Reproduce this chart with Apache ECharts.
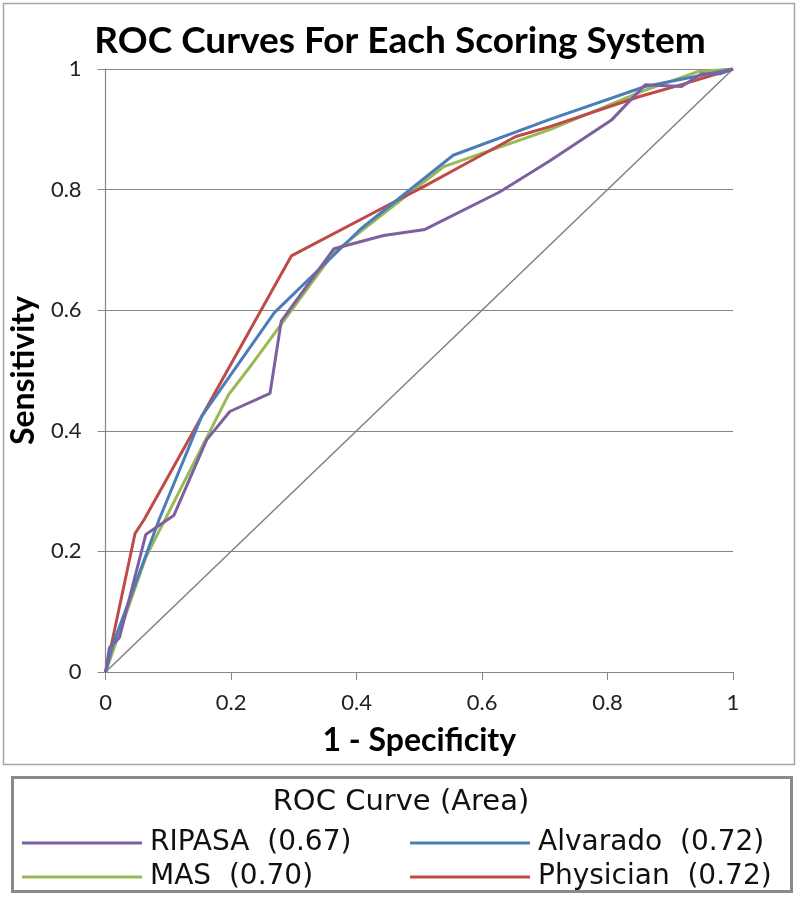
<!DOCTYPE html>
<html>
<head>
<meta charset="utf-8">
<script src="https://cdn.jsdelivr.net/npm/echarts@6/dist/echarts.min.js"></script>
<style>html,body{margin:0;padding:0;background:#fff}#c{width:800px;height:897px}</style>
</head>
<body>
<div id="c"></div>
<script>
// ---- data (x = 1 - specificity, y = sensitivity) ----
const seriesNames = ['RIPASA', 'Alvarado', 'MAS', 'Physician'];
const areas = ['0.67', '0.72', '0.70', '0.72'];
const ripasa = [[0,0],[0.006,0.04],[0.022,0.057],[0.064,0.228],[0.109,0.26],[0.161,0.385],[0.198,0.432],[0.262,0.462],[0.28,0.582],[0.364,0.702],[0.443,0.724],[0.509,0.734],[0.628,0.796],[0.707,0.847],[0.807,0.916],[0.86,0.974],[0.918,0.971],[0.95,0.992],[0.979,0.992],[1,1]];
const alvarado = [[0,0],[0.012,0.047],[0.04,0.125],[0.085,0.252],[0.153,0.424],[0.269,0.596],[0.407,0.735],[0.554,0.857],[0.707,0.916],[0.86,0.971],[1,1]];
const mas = [[0,0],[0.064,0.19],[0.196,0.46],[0.233,0.51],[0.364,0.696],[0.539,0.838],[0.707,0.899],[0.855,0.963],[0.945,0.996],[1,1]];
const physician = [[0,0],[0.047,0.23],[0.061,0.252],[0.296,0.69],[0.459,0.779],[0.507,0.805],[0.56,0.835],[0.654,0.888],[0.707,0.904],[0.85,0.954],[0.918,0.974],[1,1]];
const reference = [[0,0],[1,1]];
const colors = ['#7D60A0', '#4A7EBB', '#98B954', '#BE4B48'];

const chart = echarts.init(document.getElementById('c'), null, {renderer: 'canvas'});
const areaOf = {};
seriesNames.forEach((n, i) => areaOf[n] = areas[i]);
const legendBase = {
  type: 'plain',
  orient: 'vertical',
  icon: 'rect',
  itemWidth: 120,
  itemHeight: 3,
  itemGap: 4,
  height: 120,
  width: 380,
  selectedMode: false,
  formatter: n => n + '  (' + areaOf[n] + ')',
  textStyle: {fontFamily: 'DejaVu Sans', fontSize: 28, color: '#111', lineHeight: 30, padding: [0, 0, 0, 3]}
};
const lineSeries = (name, data, color) => ({
  name, type: 'line', data, symbol: 'none', silent: true,
  lineStyle: {color, width: 3}, itemStyle: {color}, z: 3
});
chart.setOption({
  animation: false,
  backgroundColor: '#fff',
  color: colors,
  title: {
    text: 'ROC Curves For Each Scoring System',
    left: 'center', top: 18,
    textStyle: {fontFamily: 'Lato', fontWeight: 'bold', fontSize: 37, color: '#000'}
  },
  grid: {left: 102, right: 67, top: 69, bottom: 225, containLabel: false},
  xAxis: {
    type: 'value', min: 0, max: 1, interval: 0.2,
    name: '1 - Specificity', nameLocation: 'middle', nameGap: 53,
    nameTextStyle: {fontFamily: 'Lato', fontWeight: 'bold', fontSize: 32, color: '#000'},
    axisLine: {show: true, lineStyle: {color: '#868686', width: 1.2}},
    axisTick: {show: true, length: 8, lineStyle: {color: '#868686'}},
    axisLabel: {margin: 20, fontFamily: 'Lato', fontSize: 22, color: '#222'},
    splitLine: {show: false}
  },
  yAxis: {
    type: 'value', min: 0, max: 1, interval: 0.2,
    name: 'Sensitivity', nameLocation: 'middle', nameGap: 52,
    nameTextStyle: {fontFamily: 'Lato', fontWeight: 'bold', fontSize: 32, color: '#000'},
    axisLine: {show: true, lineStyle: {color: '#868686', width: 1.2}},
    axisTick: {show: true, length: 8, lineStyle: {color: '#868686'}},
    axisLabel: {margin: 24, fontFamily: 'Lato', fontSize: 22, color: '#222'},
    splitLine: {show: true, lineStyle: {color: '#868686', width: 1.2}}
  },
  legend: [
    Object.assign({}, legendBase, {id: 'lg1', left: 17, top: 823, data: ['RIPASA', 'MAS']}),
    Object.assign({}, legendBase, {id: 'lg2', left: 405, top: 823, data: ['Alvarado', 'Physician']})
  ],
  graphic: [
    {type: 'rect', shape: {x: 3.5, y: 3.5, width: 791, height: 761}, style: {fill: 'none', stroke: '#a6a6a6', lineWidth: 1.5}, silent: true, z: -1},
    {type: 'rect', shape: {x: 12.5, y: 777.5, width: 779, height: 114}, style: {fill: 'none', stroke: '#8a8a8a', lineWidth: 3}, silent: true},
    {type: 'text', x: 401, y: 802, style: {text: 'ROC Curve (Area)', fontFamily: 'DejaVu Sans', fontSize: 29, fill: '#111', textAlign: 'center', textVerticalAlign: 'middle'}, silent: true}
  ],
  series: [
    {name: 'ref', type: 'line', data: reference, symbol: 'none', silent: true, lineStyle: {color: '#808080', width: 1.5}, z: 2},
    lineSeries('MAS', mas, colors[2]),
    lineSeries('Physician', physician, colors[3]),
    lineSeries('Alvarado', alvarado, colors[1]),
    lineSeries('RIPASA', ripasa, colors[0])
  ]
});
</script>
</body>
</html>
